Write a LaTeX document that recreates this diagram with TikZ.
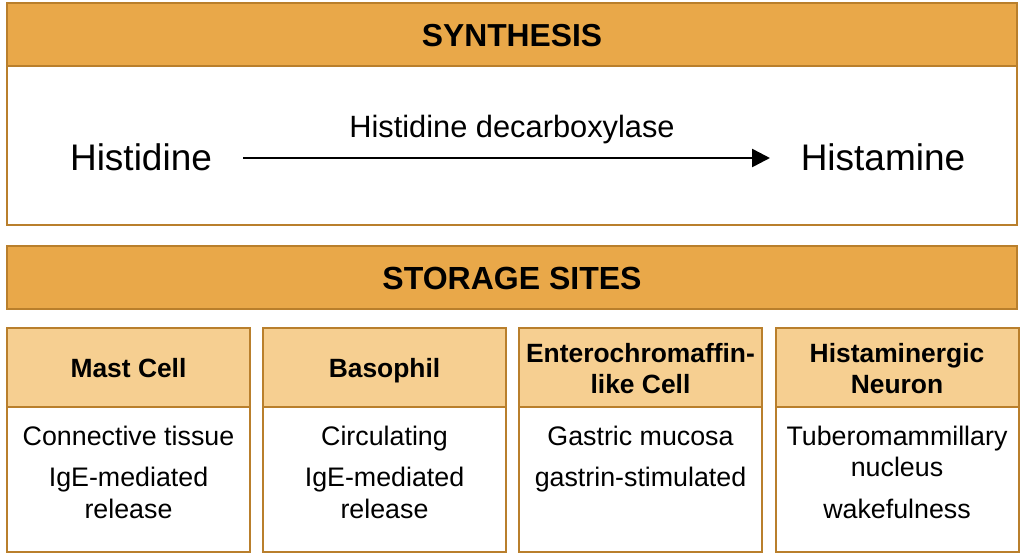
\documentclass[tikz,border=0pt]{standalone}
\usepackage{fontspec}
\setmainfont{Liberation Sans}
\usepackage{tikz}
\usetikzlibrary{positioning,arrows.meta}
\definecolor{hdrfill}{HTML}{E9A849}
\definecolor{hdrline}{HTML}{B97F2C}
\definecolor{subfill}{HTML}{F6CF91}

\begin{document}
\begin{tikzpicture}[x=0.5pt,y=-0.5pt,>={Triangle[length=9pt,width=9pt]},
    band/.style={draw=hdrline,fill=hdrfill,line width=1pt,minimum width=505pt,minimum height=31.5pt,inner sep=0pt},
    panel/.style={draw=hdrline,line width=1pt,inner sep=0pt},
    cardhead/.style={draw=hdrline,fill=subfill,line width=1pt,minimum width=121.5pt,minimum height=39.5pt,inner sep=0pt},
    cardbody/.style={draw=hdrline,fill=white,line width=1pt,minimum width=121.5pt,minimum height=72.5pt,inner sep=0pt},
    title/.style={anchor=base,inner sep=0pt,font=\fontsize{15.9}{18}\selectfont\bfseries},
    cardtitle/.style={anchor=base,inner sep=0pt,font=\fontsize{13.2}{15.5}\selectfont\bfseries},
    item/.style={anchor=base,inner sep=0pt,font=\fontsize{13.4}{16}\selectfont},
    chem/.style={anchor=base,inner sep=0pt,font=\fontsize{18.5}{22}\selectfont}]
  \useasboundingbox (0,0) rectangle (1024,559);

  % synthesis
  \node[panel,minimum width=505pt,minimum height=111pt] (synbox) at (512,114) {};
  \node[band] (synhead) at (512,34.5) {};
  \node[title] (syntitle) at (512,46) {SYNTHESIS};
  \node[chem] (his) at (141,170) {Histidine};
  \node[chem] (ham) at (883,170) {Histamine};
  \coordinate (arrA) at (243,158);
  \coordinate (arrB) at (770,158);
  \draw[->,line width=1.3pt] (arrA) -- (arrB);
  \node[item,font=\fontsize{15.4}{18}\selectfont] (enz) at (512,137) {Histidine decarboxylase};

  % storage
  \node[band] (sthead) at (512,277.5) {};
  \node[title,font=\fontsize{16}{19}\selectfont\bfseries] (sttitle) at (512,289.5) {STORAGE SITES};

  % cards
  \foreach \cx/\nm in {128.5/mast,384.5/baso,640.5/ecl,897/neur}{
    \node[cardbody] (\nm body) at (\cx,479.5) {};
    \node[cardhead] (\nm head) at (\cx,367.5) {};
  }
  \node[cardtitle] (mastT) at (128.5,377) {Mast Cell};
  \node[cardtitle] (basoT) at (384.5,377) {Basophil};
  \node[cardtitle] (eclT1) at (640.5,362) {Enterochromaffin-};
  \node[cardtitle] (eclT2) at (640.5,393) {like Cell};
  \node[cardtitle] (neurT1) at (897,362) {Histaminergic};
  \node[cardtitle] (neurT2) at (897,393) {Neuron};

  \node[item] (mastA) at (128.5,445) {Connective tissue};
  \node[item] (mastB) at (128.5,486) {IgE-mediated};
  \node[item] (mastC) at (128.5,518) {release};
  \node[item] (basoA) at (384.5,445) {Circulating};
  \node[item] (basoB) at (384.5,486) {IgE-mediated};
  \node[item] (basoC) at (384.5,518) {release};
  \node[item] (eclA) at (640.5,445) {Gastric mucosa};
  \node[item] (eclB) at (640.5,486) {gastrin-stimulated};
  \node[item] (neurA) at (897,445) {Tuberomammillary};
  \node[item] (neurB) at (897,476) {nucleus};
  \node[item] (neurC) at (897,518) {wakefulness};
\end{tikzpicture}
\end{document}
